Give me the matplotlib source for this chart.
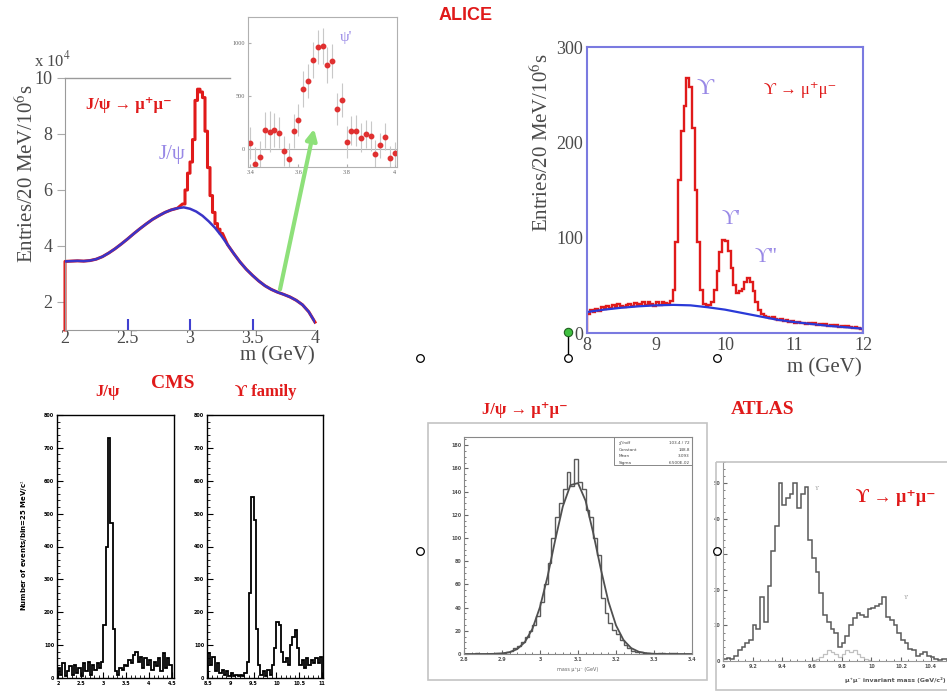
import numpy as np
import matplotlib
matplotlib.use("Agg")
import matplotlib.pyplot as plt
from matplotlib.patches import ConnectionPatch, Rectangle

# ---------------- data ----------------
# ALICE J/psi (x10^4 entries)
jpsi_bg_x = [2.00, 2.05, 2.10, 2.15, 2.20, 2.25, 2.30, 2.35, 2.40, 2.45, 2.50, 2.55, 2.60, 2.65,
             2.70, 2.75, 2.80, 2.85, 2.90, 2.95, 3.00, 3.05, 3.10, 3.15, 3.20, 3.25, 3.30, 3.35,
             3.40, 3.45, 3.50, 3.55, 3.60, 3.65, 3.70, 3.75, 3.80, 3.85, 3.90, 3.95, 4.00]
jpsi_bg_y = [3.45, 3.46, 3.47, 3.46, 3.48, 3.53, 3.62, 3.75, 3.90, 4.07, 4.25, 4.44, 4.62, 4.79,
             4.95, 5.08, 5.20, 5.29, 5.35, 5.38, 5.33, 5.23, 5.08, 4.88, 4.65, 4.37, 4.05, 3.73,
             3.43, 3.17, 2.95, 2.75, 2.58, 2.45, 2.35, 2.27, 2.18, 2.06, 1.90, 1.65, 1.28]
jpsi_peak_lo = 2.94
jpsi_peak_w = 0.02
jpsi_peak_vals = [5.5, 6.0, 6.6, 7.0, 7.8, 9.2, 9.6, 9.5, 9.3, 8.1, 6.8, 5.8, 5.2, 4.8, 4.6, 4.45]

# ALICE psi' inset
psi2_x = [3.40, 3.42, 3.44, 3.46, 3.48, 3.50, 3.52, 3.54, 3.56, 3.58, 3.60, 3.62, 3.64, 3.66,
          3.68, 3.70, 3.72, 3.74, 3.76, 3.78, 3.80, 3.82, 3.84, 3.86, 3.88, 3.90, 3.92, 3.94,
          3.96, 3.98, 4.00]
psi2_y = [60, -145, -73, 180, 164, 180, 155, -19, -98, 170, 275, 565, 644, 842, 959, 975, 789,
          833, 375, 464, 69, 174, 174, 107, 139, 123, -50, 35, 117, -88, -41]
psi2_err = [150, 160, 150, 170, 190, 160, 150, 140, 150, 160, 150, 170, 160, 170, 160, 170, 170,
            160, 150, 160, 150, 140, 150, 140, 130, 140, 130, 120, 130, 120, 110]

# ALICE Upsilon (entries / 20 MeV / 1e6 s)
ups_lo = 8.0
ups_w = 0.04
ups_vals = [20, 24, 22, 25, 23, 27, 25, 28, 26, 29,
            27, 30, 28, 27, 29, 30, 28, 31, 29, 30,
            32, 29, 33, 30, 28, 32, 29, 33, 31, 30,
            34, 45, 95, 160, 212, 238, 268, 258, 215, 150,
            95, 45, 30, 28, 29, 32, 45, 65, 85, 98,
            97, 86, 68, 50, 42, 44, 46, 53, 58, 54,
            44, 32, 24, 20, 18, 17, 16, 17, 15, 14,
            15, 13, 14, 12, 13, 11, 12, 10, 11, 9,
            10, 9, 10, 8, 9, 8, 9, 7, 8, 7,
            8, 6, 7, 6, 7, 6, 5, 6, 5, 4]
ups_bg_x = [8.0, 8.25, 8.5, 8.75, 9.0, 9.25, 9.5, 9.75, 10.0, 10.25, 10.5, 10.75, 11.0, 11.25,
            11.5, 11.75, 12.0]
ups_bg_y = [22, 24.5, 26.5, 28, 29, 29.5, 29, 27, 24.5, 21, 17.5, 14, 11.5, 9.5, 7.5, 6, 4.5]

# CMS
cms_jpsi_lo = 2.0
cms_w = 0.05
cms_jpsi_vals = [30, 10, 45, 5, 20, 35, 10, 40, 15, 30, 5, 45, 20, 50, 10, 40, 25, 45, 30, 50,
                 160, 400, 730, 470, 150, 20, 10, 30, 25, 40, 35, 55, 45, 70, 80, 50, 65, 30, 60, 40,
                 55, 25, 50, 35, 60, 20, 75, 30, 60, 40]
cms_ups_lo = 8.5
cms_ups_vals = [75, 40, 65, 20, 45, 15, 25, 10, 20, 5, 15, 5, 10, 5, 10, 5, 15, 50, 260, 550,
                480, 150, 40, 10, 20, 5, 25, 10, 40, 90, 170, 160, 80, 50, 60, 40, 100, 125, 145, 90,
                40, 55, 30, 60, 40, 55, 45, 60, 45, 65]

# ATLAS J/psi
atl_jpsi_lo = 2.8
atl_jpsi_w = 0.01
atl_jpsi_vals = [0, 0, 0, 1, 0, 0, 0, 0, 1, 1,
                 1, 2, 3, 5, 7, 10, 15, 20, 25, 33,
                 45, 60, 78, 100, 118, 130, 142, 157, 145, 168,
                 148, 142, 124, 118, 100, 85, 48, 35, 27, 21,
                 17, 12, 8, 5, 3, 2, 2, 1, 1, 0,
                 0, 1, 1, 0, 1, 1, 0, 0, 0, 0]
atl_fit_x = [2.80, 2.82, 2.84, 2.86, 2.88, 2.90, 2.92, 2.94, 2.96, 2.98, 3.00, 3.02, 3.04, 3.06,
             3.08, 3.10, 3.12, 3.14, 3.16, 3.18, 3.20, 3.22, 3.24, 3.26, 3.28, 3.30, 3.32, 3.34,
             3.36, 3.38, 3.40]
atl_fit_y = [0, 0, 0.01, 0.04, 0.15, 0.5, 1.6, 4.2, 10.2, 21.6, 40.5, 66.9, 98.2, 127.1,
             145.5, 147.3, 132.0, 104.4, 73.3, 45.2, 24.7, 11.9, 5.1, 1.9, 0.65, 0.2, 0.05, 0,
             0, 0, 0]

# ATLAS Upsilon
atl_ups_lo = 9.0
atl_ups_w = 0.025
atl_ups_vals = [0.5, 0.8, 0.6, 1.5, 3, 4, 5, 6, 10, 9,
                18, 11, 21, 31, 38, 50, 44, 46, 47, 50,
                43, 47, 49, 34, 29, 25, 19, 13, 11, 9,
                8, 4, 5, 7, 10, 12, 13.5, 13, 12.5, 14.5,
                15, 15.5, 16, 18, 12.5, 11.5, 10, 8, 6, 5,
                3.5, 3, 1.5, 2, 2.5, 1.5, 1, 0.5, 0.3, 0.6, 0.5]
atl_bkg_lo = 9.6
atl_bkg_vals = [0.3, 0.5, 1, 2, 3, 2.5, 2, 1, 2, 3, 2.5, 3, 2, 1, 0.5, 0.3]

# ---------------- figure ----------------
W, H = 947, 693
fig = plt.figure(figsize=(W / 100, H / 100), dpi=100)
fig.patch.set_facecolor("white")
plt.rcParams["mathtext.fontset"] = "stix"
SERIF = ["Liberation Serif", "DejaVu Serif"]
RED = "#e01a1a"
LAV = "#9888e6"
GRAYTXT = "#4a4a4a"


def pax(x0, y0, x1, y1):
    return fig.add_axes([x0 / W, 1 - y1 / H, (x1 - x0) / W, (y1 - y0) / H])


def step_xy(lo, w, vals):
    vals = np.asarray(vals, float)
    edges = lo + w * np.arange(len(vals) + 1)
    return edges, vals


# ---- ALICE J/psi ----
ax1 = pax(65, 78, 315, 330)
ax1.set_xlim(2, 4)
ax1.set_ylim(1, 10)
bx = np.array(jpsi_bg_x)
by = np.array(jpsi_bg_y)
pe, pv = step_xy(jpsi_peak_lo, jpsi_peak_w, jpsi_peak_vals)
sx = np.repeat(pe, 2)[1:-1]
sy = np.repeat(pv, 2)
red_x = np.concatenate([[2.0], bx[bx < jpsi_peak_lo], sx, bx[bx > pe[-1]]])
red_y = np.concatenate([[1.0], by[bx < jpsi_peak_lo], sy, by[bx > pe[-1]]])
ax1.plot(red_x, red_y, color=RED, lw=2.2, zorder=2, clip_on=False)
ax1.plot(bx, by, color="#3a34c8", lw=1.8, zorder=3)
for s in ["top", "right"]:
    ax1.spines[s].set_visible(False)
for s in ["left", "bottom"]:
    ax1.spines[s].set_color("#9a9a9a")
ax1.plot([0, 0.66], [1, 1], transform=ax1.transAxes, color="#9a9a9a", lw=1, clip_on=False)
ax1.set_yticks([2, 4, 6, 8, 10])
ax1.set_yticklabels(["2", "4", "6", "8", "10"])
ax1.set_xticks([2, 2.5, 3, 3.5, 4])
ax1.set_xticklabels(["2", "2.5", "3", "3.5", "4"])
ax1.tick_params(axis="y", direction="out", length=6, color="#aaaaaa", labelsize=13,
                labelcolor=GRAYTXT, pad=3)
ax1.tick_params(axis="x", direction="in", length=8, width=1.5, color="#4040d0", labelsize=13,
                labelcolor=GRAYTXT, pad=0)
for i in (0, 4):
    ax1.xaxis.get_major_ticks()[i].tick1line.set_visible(False)
for lab in ax1.get_xticklabels() + ax1.get_yticklabels():
    lab.set_family(SERIF)
ax1.patch.set_alpha(0)

# ---- inset psi' ----
ax2 = pax(248, 17, 397, 167)
ax2.set_xlim(3.39, 4.01)
ax2.set_ylim(-170, 1245)
ax2.axhline(0, color="#b0b0b0", lw=0.8)
ax2.errorbar(psi2_x, psi2_y, yerr=psi2_err, fmt="o", ms=3.2, color="#e03030",
             ecolor="#c8c8c8", elinewidth=0.8, capsize=0)
for s in ax2.spines.values():
    s.set_color("#b0b0b0")
ax2.set_yticks([0, 500, 1000])
ax2.set_yticklabels(["0", "500", "1000"])
ax2.set_xticks([3.4, 3.6, 3.8, 4.0])
ax2.set_xticklabels(["3.4", "3.6", "3.8", "4"])
ax2.tick_params(direction="in", length=2, labelsize=4.5, labelcolor="#666666", color="#b0b0b0", pad=2)
for lab in ax2.get_xticklabels() + ax2.get_yticklabels():
    lab.set_family(SERIF)
ax2.text(3.77, 1020, "ψ'", color=LAV, fontsize=11, family=SERIF)

# green arrow
arrow = ConnectionPatch(xyA=(3.72, 2.45), coordsA=ax1.transData,
                        xyB=(3.665, 190), coordsB=ax2.transData,
                        arrowstyle="-|>", mutation_scale=16, color="#8ee07a", lw=3, zorder=20)
fig.add_artist(arrow)

# ---- ALICE Upsilon ----
ax3 = pax(587, 47, 863, 333)
ax3.set_xlim(8, 12)
ax3.set_ylim(0, 300)
ue, uv = step_xy(ups_lo, ups_w, ups_vals)
ax3.stairs(uv, ue, color=RED, lw=1.7)
ax3.plot(ups_bg_x, ups_bg_y, color="#2a3ad8", lw=1.6)
for s in ax3.spines.values():
    s.set_color("#7a7ae0")
    s.set_linewidth(1.5)
ax3.set_xticks([8, 9, 10, 11, 12])
ax3.set_yticks([0, 100, 200, 300])
ax3.tick_params(length=0, labelsize=13, labelcolor=GRAYTXT, pad=3)
for lab in ax3.get_xticklabels() + ax3.get_yticklabels():
    lab.set_family(SERIF)

# ---- CMS ----
def cms_axes(ax, lo, vals, xlim, xt, xtl):
    e, v = step_xy(lo, cms_w, vals)
    ax.stairs(v, e, color="black", lw=1.3)
    ax.set_xlim(*xlim)
    ax.set_ylim(0, 800)
    ax.set_xticks(xt)
    ax.set_xticklabels(xtl)
    ax.set_yticks(range(0, 801, 100))
    ax.set_yticklabels([str(t) for t in range(0, 801, 100)])
    ax.minorticks_on()
    ax.tick_params(which="both", direction="in", color="black")
    ax.tick_params(which="major", length=4, labelsize=3.5, pad=2)
    ax.tick_params(which="minor", length=2)
    for lab in ax.get_xticklabels() + ax.get_yticklabels():
        lab.set_fontweight("bold")
    for s in ax.spines.values():
        s.set_linewidth(1.0)

ax4 = pax(57, 415, 174, 678)
cms_axes(ax4, cms_jpsi_lo, cms_jpsi_vals, (1.98, 4.55), [2, 2.5, 3, 3.5, 4, 4.5],
         ["2", "2.5", "3", "3.5", "4", "4.5"])
ax5 = pax(207, 415, 323, 678)
cms_axes(ax5, cms_ups_lo, cms_ups_vals, (8.48, 11.02), [8.5, 9, 9.5, 10, 10.5, 11],
         ["8.5", "9", "9.5", "10", "10.5", "11"])

# ---- ATLAS J/psi ----
ax6 = pax(464, 437, 692, 654)
ae, av = step_xy(atl_jpsi_lo, atl_jpsi_w, atl_jpsi_vals)
ax6.stairs(av, ae, color="#5a5a5a", lw=1.0)
ax6.plot(atl_fit_x, atl_fit_y, color="#505050", lw=1.3)
ax6.set_xlim(2.8, 3.4)
ax6.set_ylim(0, 187)
ax6.set_xticks([2.8, 2.9, 3.0, 3.1, 3.2, 3.3, 3.4])
ax6.set_xticklabels(["2.8", "2.9", "3", "3.1", "3.2", "3.3", "3.4"])
ax6.set_yticks(range(0, 181, 20))
ax6.minorticks_on()
ax6.tick_params(which="both", direction="in", color="#666666")
ax6.tick_params(which="major", length=3, labelsize=3.5, labelcolor="#555555", pad=2)
ax6.tick_params(which="minor", length=1.5)
for lab in ax6.get_xticklabels() + ax6.get_yticklabels():
    lab.set_fontweight("bold")
for s in ax6.spines.values():
    s.set_color("#888888")
ax6.set_xlabel("mass μ⁺μ⁻ (GeV)", fontsize=3.5, color="#666666", labelpad=4)
ax6.add_patch(Rectangle((0.66, 0.87), 0.34, 0.13, transform=ax6.transAxes, fill=False,
                        ec="#888888", lw=0.7))
stat_l = ["χ²/ndf", "Constant", "Mean", "Sigma"]
stat_r = ["103.4 / 72", "148.8", "3.093", "6.500E-02"]
for i, (l, r) in enumerate(zip(stat_l, stat_r)):
    yy = 0.98 - i * 0.03
    ax6.text(0.68, yy, l, transform=ax6.transAxes, fontsize=3, va="top", color="#444444")
    ax6.text(0.99, yy, r, transform=ax6.transAxes, fontsize=3, va="top", ha="right",
             color="#444444")

# ---- ATLAS Upsilon ----
ax7 = pax(723, 462, 947, 661)
ue2, uv2 = step_xy(atl_ups_lo, atl_ups_w, atl_ups_vals)
be, bv = step_xy(atl_bkg_lo, atl_ups_w, atl_bkg_vals)
ax7.stairs(bv, be, color="#c0c0c0", lw=0.9)
ax7.stairs(uv2, ue2, color="#5a5a5a", lw=1.1)
ax7.set_xlim(9.0, 10.51)
ax7.set_ylim(0, 56)
ax7.set_xticks([9.0, 9.2, 9.4, 9.6, 9.8, 10.0, 10.2, 10.4])
ax7.set_xticklabels(["9", "9.2", "9.4", "9.6", "9.8", "10", "10.2", "10.4"])
ax7.set_yticks([0, 10, 20, 30, 40, 50])
ax7.minorticks_on()
ax7.tick_params(which="both", direction="in", color="#666666")
ax7.tick_params(which="major", length=3, labelsize=3.5, labelcolor="#555555", pad=2)
ax7.tick_params(which="minor", length=1.5)
for lab in ax7.get_xticklabels() + ax7.get_yticklabels():
    lab.set_fontweight("bold")
for s in ax7.spines.values():
    s.set_color("#999999")
ax7.spines["right"].set_visible(False)
ax7.spines["top"].set_visible(False)
ax7.text(9.62, 48, "ϒ", fontsize=4, color="#777777", family=SERIF)
ax7.text(10.22, 17.5, "ϒ'", fontsize=4, color="#777777", family=SERIF)

# ---------------- overlay (text, frames, handles) ----------------
ov = fig.add_axes([0, 0, 1, 1], zorder=30)
ov.set_xlim(0, W)
ov.set_ylim(H, 0)
ov.axis("off")
ov.patch.set_alpha(0)

# ATLAS frames
ov.add_patch(Rectangle((428, 423), 279, 257, fill=False, ec="#c4c4c4", lw=1.2))
ov.add_patch(Rectangle((716, 462), 240, 228, fill=False, ec="#c4c4c4", lw=1.2))

# titles
ov.text(466, 15, "ALICE", color=RED, fontsize=13, fontweight="bold", ha="center", va="center",
        family="Liberation Sans")
ov.text(173, 384, "CMS", color=RED, fontsize=14, fontweight="bold", ha="center", va="center",
        family=SERIF)
ov.text(108, 392, "J/ψ", color=RED, fontsize=12, fontweight="bold", ha="center", va="center",
        family=SERIF)
ov.text(266, 392, "ϒ family", color=RED, fontsize=12, fontweight="bold", ha="center",
        va="center", family=SERIF)
ov.text(763, 410, "ATLAS", color=RED, fontsize=14, fontweight="bold", ha="center", va="center",
        family=SERIF)
ov.text(525, 410, "J/ψ → μ⁺μ⁻", color=RED, fontsize=12, fontweight="bold", ha="center",
        va="center", family=SERIF)
ov.text(896, 497, "ϒ → μ⁺μ⁻", color=RED, fontsize=13, fontweight="bold", ha="center",
        va="center", family=SERIF)

# ALICE panel texts
ov.text(129, 105, "J/ψ → μ⁺μ⁻", color=RED, fontsize=12, fontweight="bold", ha="center",
        va="center", family=SERIF)
ov.text(172, 155, "J/ψ", color=LAV, fontsize=15, ha="center", va="center", family=SERIF)
ov.text(52, 60, "x 10$^4$", color=GRAYTXT, fontsize=12, ha="center", va="center", family=SERIF)
ov.text(27, 174, "Entries/20 MeV/10$^6$s", color=GRAYTXT, fontsize=15, rotation=90,
        ha="center", va="center", family=SERIF)
ov.text(315, 356, "m (GeV)", color=GRAYTXT, fontsize=15, ha="right", va="center", family=SERIF)

ov.text(542, 143, "Entries/20 MeV/10$^6$s", color=GRAYTXT, fontsize=15, rotation=90,
        ha="center", va="center", family=SERIF)
ov.text(862, 368, "m (GeV)", color=GRAYTXT, fontsize=15, ha="right", va="center", family=SERIF)
ov.text(705, 88, "ϒ", color=LAV, fontsize=17, ha="center", va="center", family=SERIF)
ov.text(731, 220, "ϒ'", color=LAV, fontsize=15, ha="center", va="center", family=SERIF)
ov.text(766, 258, "ϒ''", color=LAV, fontsize=15, ha="center", va="center", family=SERIF)
ov.text(800, 90, "ϒ → μ⁺μ⁻", color=RED, fontsize=12, ha="center", va="center", family=SERIF)

# CMS y label
ov.text(25, 545, "Number of events/bin=25 MeV/c$^2$", fontsize=5, fontweight="bold",
        rotation=90, ha="center", va="center")
# ATLAS right x label
ov.text(946, 680, "μ⁺μ⁻ invariant mass (GeV/c²)", fontsize=4.5, fontweight="bold",
        color="#555555", ha="right", va="center")

# slide handles
ov.plot([568, 568], [332, 358], color="black", lw=1)
ov.plot([568], [332], "o", ms=6, mfc="#40c040", mec="#206020", mew=0.8)
hx = [568, 717, 420, 420, 717]
hy = [358, 358, 358, 551, 551]
ov.plot(hx, hy, "o", ms=5.5, mfc="white", mec="black", mew=0.9, ls="none")

fig.savefig("out.png", dpi=100, facecolor="white")
